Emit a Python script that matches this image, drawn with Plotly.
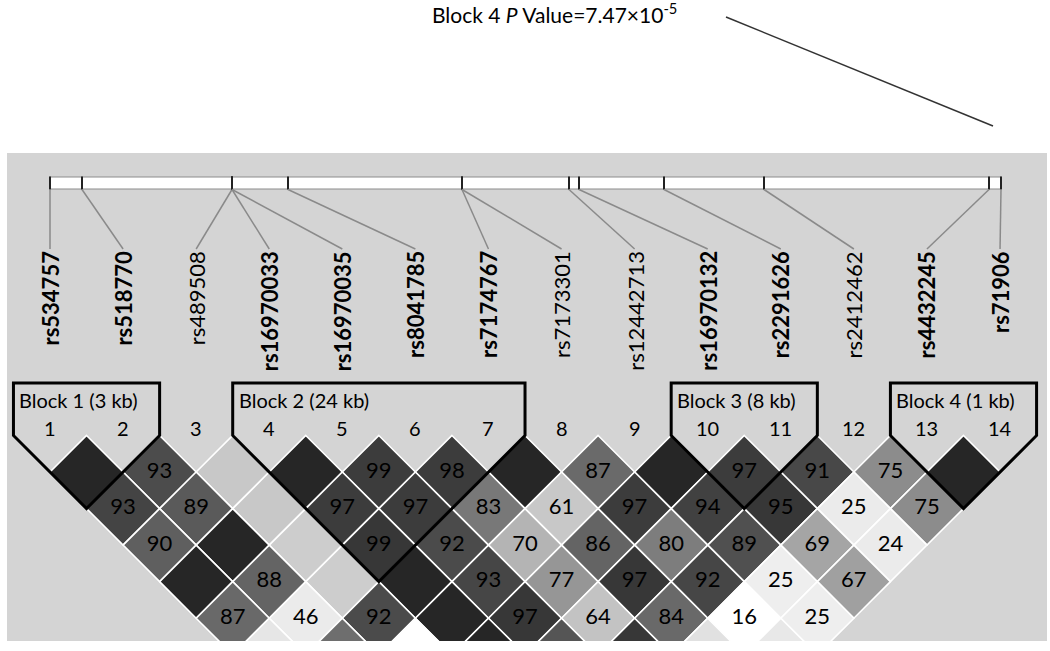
import plotly.graph_objects as go

# markers, left to right
snps = ["rs534757", "rs518770", "rs489508", "rs16970033", "rs16970035", "rs8041785",
        "rs7174767", "rs7173301", "rs12442713", "rs16970132", "rs2291626", "rs2412462",
        "rs4432245", "rs71906"]
bold = [1, 1, 0, 1, 1, 1, 1, 0, 0, 1, 1, 0, 1, 1]
pos_kb = [0.0, 3.2, 18.2, 18.2, 18.2, 23.8, 41.2, 41.2, 51.9, 52.9, 61.4, 71.4, 93.9, 95.1]

# D' x100, one row per marker distance (1 = neighbours); None = no number shown
dprime = [
    [None, 93, None, None, 99, 98, None, 87, None, 97, 91, 75, None],
    [93, 89, None, 97, 97, 83, 61, 97, 94, 95, 25, 75],
    [90, None, None, 99, 92, 70, 86, 80, 89, 69, 24],
    [None, 88, None, None, 93, 77, 97, 92, 25, 67],
    [87, 46, 92, None, 97, 64, 84, 16, 25],
    [None, None, None, None, None, None, None, None],
]
# grey level of each cell (0 black - 255 white), same layout as dprime
shade = [
    [38, 76, 200, 38, 60, 60, 38, 106, 38, 60, 72, 140, 38],
    [68, 90, 200, 60, 60, 120, 200, 60, 65, 55, 235, 140],
    [95, 38, 205, 55, 75, 180, 100, 125, 80, 165, 235],
    [38, 100, 205, 38, 70, 150, 55, 70, 238, 160],
    [105, 235, 75, 38, 55, 195, 105, 255, 238],
    [230, 110, 255, 38, 85, 55, 225, 232],
]
blocks = [("Block 1 (3 kb)", 1, 2), ("Block 2 (24 kb)", 4, 7),
          ("Block 3 (8 kb)", 10, 11), ("Block 4 (1 kb)", 13, 14)]
title = "Block 4 <i>P</i> Value=7.47×10<sup>-5</sup>"

W, H = 1050, 651
L, T, R, B = 7, 153, 1047, 641       # grey panel
step = 73.08
h = step / 2
x0 = 50
top = 435.5                           # top of first diamond row
FONT = "Lato"


def col_x(k):
    return x0 + k * step


def phys_x(kb):
    return x0 + kb * 10.0


def paper(px, py):
    return (px - L) / (R - L), (B - py) / (B - T)


shapes = []
tx, ty, tt = [], [], []

# LD diamonds
for d, row in enumerate(shade, start=1):
    for i, g in enumerate(row):
        cx = (col_x(i) + col_x(i + d)) / 2
        cy = top + d * h
        shapes.append(dict(
            type="path", xref="x", yref="y", layer="below",
            path=f"M{cx},{cy - h} L{cx + h},{cy} L{cx},{cy + h} L{cx - h},{cy} Z",
            fillcolor=f"rgb({g},{g},{g})", line=dict(color="white", width=1.6)))
        v = dprime[d - 1][i]
        if v is not None:
            tx.append(cx)
            ty.append(cy)
            tt.append(str(v))

# block outlines
annotations = []
for name, a, b in blocks:
    xl, xr = col_x(a - 1) - h, col_x(b - 1) + h
    xm = (col_x(a - 1) + col_x(b - 1)) / 2
    ym = top + (b - a + 1) * h
    shapes.append(dict(
        type="path", xref="x", yref="y", layer="above",
        path=f"M{xl},383 L{xr},383 L{xr},{top} L{xm},{ym} L{xl},{top} Z",
        line=dict(color="black", width=3)))
    annotations.append(dict(x=xl + 4, y=400, xref="x", yref="y", text=name,
                            showarrow=False, xanchor="left", yanchor="middle",
                            font=dict(family=FONT, size=20, color="black")))

# column numbers
for k in range(len(snps)):
    annotations.append(dict(x=col_x(k), y=428, xref="x", yref="y", text=str(k + 1),
                            showarrow=False, xanchor="center", yanchor="middle",
                            font=dict(family=FONT, size=20, color="black")))

# physical map bar, ticks and connectors
shapes.append(dict(type="rect", xref="x", yref="y", x0=phys_x(pos_kb[0]), x1=phys_x(pos_kb[-1]),
                   y0=177, y1=189, fillcolor="white", line=dict(color="#8c8c8c", width=1.2)))
for k, kb in enumerate(pos_kb):
    px = phys_x(kb)
    shapes.append(dict(type="line", xref="x", yref="y", x0=px, x1=px, y0=176.5, y1=189.5,
                       line=dict(color="#222222", width=2)))
    shapes.append(dict(type="line", xref="x", yref="y", x0=px, x1=col_x(k), y0=189.5, y1=249,
                       line=dict(color="#8a8a8a", width=1.5)))
    label = f"<b>{snps[k]}</b>" if bold[k] else snps[k]
    annotations.append(dict(x=col_x(k), y=249, xref="x", yref="y", text=label,
                            showarrow=False, textangle=-90, xanchor="center", yanchor="top",
                            font=dict(family=FONT, size=22, color="black")))

# p-value note and leader line above the panel
px, py = paper(554, 13)
annotations.append(dict(x=px, y=py, xref="paper", yref="paper", text=title,
                        showarrow=False, xanchor="center", yanchor="middle",
                        font=dict(family=FONT, size=21, color="black")))
ax0, ay0 = paper(726, 17)
ax1, ay1 = paper(993, 126)
shapes.append(dict(type="line", xref="paper", yref="paper", x0=ax0, y0=ay0, x1=ax1, y1=ay1,
                   line=dict(color="#333333", width=1.5)))

fig = go.Figure()
fig.add_trace(go.Scatter(x=tx, y=ty, text=tt, mode="text", hoverinfo="skip",
                         textfont=dict(family=FONT, size=22, color="black")))
fig.update_layout(
    width=W, height=H,
    margin=dict(l=L, r=W - R, t=T, b=H - B, pad=0),
    paper_bgcolor="white", plot_bgcolor="#d4d4d4",
    showlegend=False,
    xaxis=dict(range=[L, R], visible=False, fixedrange=True),
    yaxis=dict(range=[B, T], visible=False, fixedrange=True),
    shapes=shapes, annotations=annotations,
)
fig.write_html("out.html", config={"displayModeBar": False},
               post_script="document.body.style.margin='0';")
